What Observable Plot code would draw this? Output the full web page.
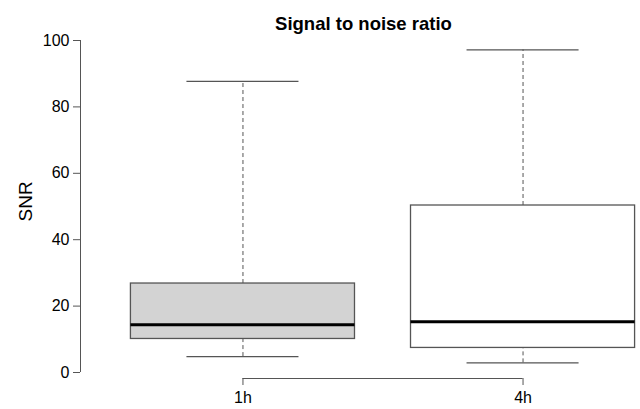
<!DOCTYPE html>
<html><head><meta charset="utf-8">
<script src="https://cdn.jsdelivr.net/npm/d3@7"></script>
<script src="https://cdn.jsdelivr.net/npm/@observablehq/plot@0.6"></script>
<style>
body{margin:0;background:#fff}
#chart svg{font-family:"Liberation Sans",Arial,Helvetica,sans-serif;}
</style>
</head><body><div id="chart"></div>
<script>
// ---- data ----
const categories  = ["1h", "4h"];
const whiskerLow  = [4.8, 2.9];
const quartile1   = [10.1, 7.4];
const medians     = [14.4, 15.3];
const quartile3   = [26.8, 50.3];
const whiskerHigh = [87.7, 97.2];
const boxFill     = ["#d3d3d3", "#ffffff"];
const yTicks      = [0, 20, 40, 60, 80, 100];
const titleText   = "Signal to noise ratio";
const yLabel      = "SNR";

const data = categories.map((c, i) => ({
  cat: c, pos: i + 1,
  lo: whiskerLow[i], q1: quartile1[i], med: medians[i], q3: quartile3[i], hi: whiskerHigh[i],
  fill: boxFill[i]
}));
const n = categories.length;
const pad = 0.04 * n;                       // R: 4% extension of [0.5, n+0.5]
const xDomain = [0.5 - pad, n + 0.5 + pad];
const boxHalf = 0.4, capHalf = 0.2;
const lineCol = "#555";

const chart = Plot.plot({
  width: 640, height: 409,
  marginLeft: 80, marginRight: 74, marginTop: 40, marginBottom: 31,
  style: {fontFamily: "'Liberation Sans', Arial, sans-serif", background: "#fff", color: "#000"},
  x: {type: "linear", domain: xDomain, range: [80, 685]},
  y: {domain: [yTicks[0], yTicks[yTicks.length - 1]], range: [372, 40]},
  color: {type: "identity"},
  marks: [
    // whiskers
    Plot.ruleX(data, {x: "pos", y1: "q3", y2: "hi", stroke: lineCol, strokeDasharray: "4,3"}),
    Plot.ruleX(data, {x: "pos", y1: "lo", y2: "q1", stroke: lineCol, strokeDasharray: "4,3"}),
    // caps
    Plot.ruleY(data, {y: "hi", x1: d => d.pos - capHalf, x2: d => d.pos + capHalf, stroke: lineCol, strokeWidth: 1.3}),
    Plot.ruleY(data, {y: "lo", x1: d => d.pos - capHalf, x2: d => d.pos + capHalf, stroke: lineCol, strokeWidth: 1.3}),
    // boxes
    Plot.rect(data, {x1: d => d.pos - boxHalf, x2: d => d.pos + boxHalf, y1: "q1", y2: "q3",
      fill: "fill", stroke: lineCol, strokeWidth: 1.3}),
    // medians
    Plot.ruleY(data, {y: "med", x1: d => d.pos - boxHalf, x2: d => d.pos + boxHalf, stroke: "#000", strokeWidth: 3}),
    // y axis
    Plot.ruleX([xDomain[0]], {y1: yTicks[0], y2: yTicks[yTicks.length - 1], stroke: lineCol}),
    Plot.axisY(yTicks, {anchor: "left", tickSize: 7, tickPadding: 4, fontSize: 16, stroke: lineCol, label: null}),
    // x axis (bracket from first to last group)
    Plot.ruleY([yTicks[0]], {x1: 1, x2: n, dy: 6, stroke: lineCol}),
    Plot.axisX(data.map(d => d.pos), {anchor: "bottom", tickSize: 7, tickPadding: 6, fontSize: 16,
      stroke: lineCol, tickFormat: v => categories[v - 1], label: null}),
    // labels
    Plot.text([yLabel], {frameAnchor: "left", rotate: -90, dx: -55, dy: 12, fontSize: 19}),
    Plot.text([titleText], {frameAnchor: "top", lineAnchor: "bottom", dx: 40, dy: -11, fontSize: 18.5, fontWeight: "bold"})
  ]
});
document.getElementById("chart").appendChild(chart);
</script>
</body></html>
